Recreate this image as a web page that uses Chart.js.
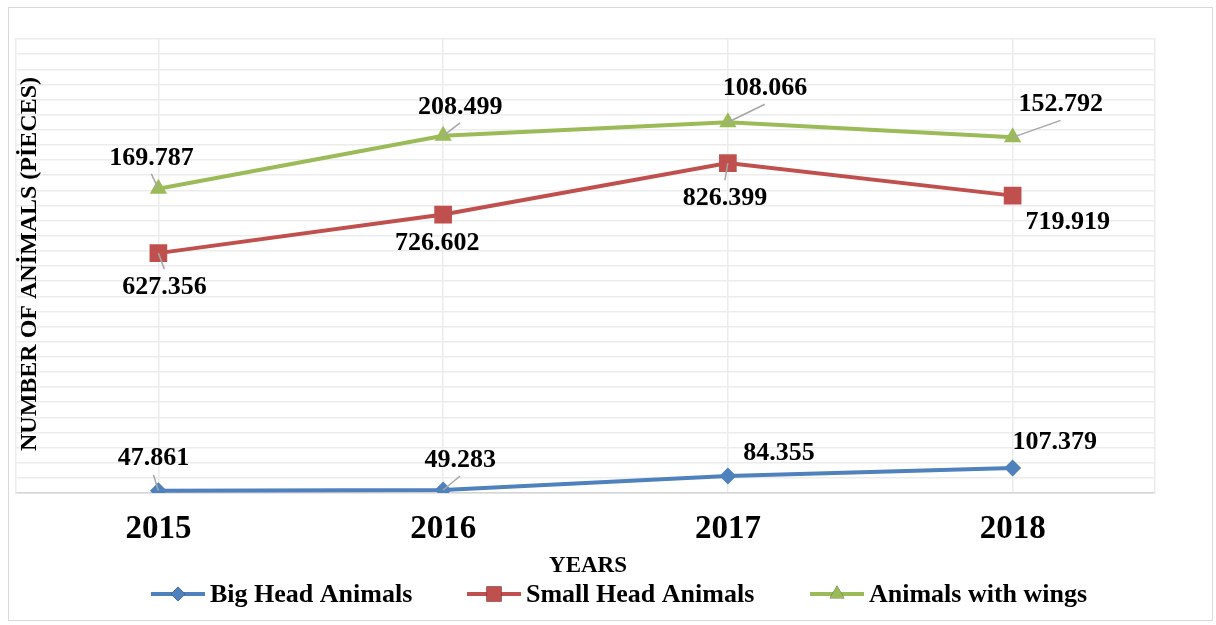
<!DOCTYPE html>
<html>
<head>
<meta charset="utf-8">
<script src="https://cdn.jsdelivr.net/npm/chart.js@4"></script>
<style>
  html, body { margin: 0; padding: 0; background: #fff; }
  #wrap { width: 1216px; height: 625px; position: relative; }
</style>
</head>
<body>
<div id="wrap"><canvas id="chart" width="1216" height="625"></canvas></div>
<script>
// Data (y values in gridline units; the axis has no tick labels)
const years = ['2015', '2016', '2017', '2018'];
const bigHead = [0.15, 0.2, 1.12, 1.65];
const smallHead = [15.85, 18.4, 21.8, 19.65];
const withWings = [20.1, 23.6, 24.5, 23.5];
const bigHeadLabels = ['47.861', '49.283', '84.355', '107.379'];
const smallHeadLabels = ['627.356', '726.602', '826.399', '719.919'];
const withWingsLabels = ['169.787', '208.499', '108.066', '152.792'];

const SERIF = "'Liberation Serif', 'Times New Roman', serif";
const BLUE = '#4f81bd';
const RED = '#c0504d';
const GREEN = '#9bbb59';

// label placement relative to its point: [dx, dy, leader?]
const labelPlacement = [
  [[-5, -33, true], [17, -31, true], [51, -24, false], [42, -27, false]],
  [[6, 33, true], [-6, 28, false], [-3, 34, true], [55, 26, false]],
  [[-7, -32, true], [17, -30, true], [37, -35, true], [48, -34, true]],
];
const seriesLabels = [bigHeadLabels, smallHeadLabels, withWingsLabels];

const dataLabels = {
  id: 'dataLabels',
  afterDatasetsDraw(chart) {
    const ctx = chart.ctx;
    ctx.save();
    ctx.font = `bold 26px ${SERIF}`;
    ctx.textAlign = 'center';
    ctx.textBaseline = 'middle';
    chart.data.datasets.forEach((ds, di) => {
      const meta = chart.getDatasetMeta(di);
      meta.data.forEach((pt, i) => {
        const [dx, dy, leader] = labelPlacement[di][i];
        const lx = pt.x + dx;
        const ly = pt.y + dy;
        if (leader) {
          const sy = ly + (dy < 0 ? 17 : -17);
          ctx.strokeStyle = '#a6a6a6';
          ctx.lineWidth = 1.5;
          ctx.beginPath();
          ctx.moveTo(lx, sy);
          ctx.lineTo(pt.x, pt.y);
          ctx.stroke();
        }
        ctx.fillStyle = '#000';
        ctx.fillText(seriesLabels[di][i], lx, ly + 1);
      });
    });
    ctx.restore();
  },
};

const decorations = {
  id: 'decorations',
  afterDraw(chart) {
    const ctx = chart.ctx;
    ctx.save();
    // outer frame
    ctx.strokeStyle = '#d9d9d9';
    ctx.lineWidth = 1;
    ctx.strokeRect(8.5, 7.5, 1204, 613);

    // y axis title, drawn over the plot area as in the original
    ctx.fillStyle = '#000';
    ctx.font = `bold 24px ${SERIF}`;
    ctx.textAlign = 'center';
    ctx.textBaseline = 'middle';
    ctx.translate(30, 264);
    ctx.rotate(-Math.PI / 2);
    ctx.fillText('NUMBER OF ANİMALS (PİECES)', 0, 0);
    ctx.restore();

    ctx.save();
    ctx.fillStyle = '#000';
    ctx.textAlign = 'center';
    ctx.textBaseline = 'middle';
    ctx.font = `bold 23px ${SERIF}`;
    ctx.fillText('YEARS', 588, 566);

    // legend: line + marker, then name
    const legendX = [151, 467, 810];
    const y = 594;
    chart.data.datasets.forEach((ds, i) => {
      const x0 = legendX[i];
      ctx.strokeStyle = ds.borderColor;
      ctx.lineWidth = 4;
      ctx.beginPath();
      ctx.moveTo(x0, y);
      ctx.lineTo(x0 + 54, y);
      ctx.stroke();
      Chart.helpers.drawPoint(ctx, {
        pointStyle: ds.pointStyle,
        radius: ds.pointRadius * 0.85,
        borderWidth: 0,
        rotation: 0,
      }, x0 + 27, y);
      ctx.fillStyle = ds.backgroundColor;
      ctx.fill();
      ctx.fillStyle = '#000';
      ctx.textAlign = 'left';
      ctx.font = `bold 26px ${SERIF}`;
      ctx.fillText(ds.label, x0 + 59, y + 1);
    });
    ctx.restore();
  },
};

const mkSet = (label, data, color, style, r) => ({
  label,
  data,
  borderColor: color,
  backgroundColor: color,
  borderWidth: 4,
  pointStyle: style,
  pointRadius: r,
  pointHoverRadius: r,
  pointBorderWidth: 0,
  pointBackgroundColor: color,
  tension: 0,
});

new Chart(document.getElementById('chart'), {
  type: 'line',
  data: {
    labels: years,
    datasets: [
      mkSet('Big Head Animals', bigHead, BLUE, 'rectRot', 8.5),
      mkSet('Small Head Animals', smallHead, RED, 'rect', 12.5),
      mkSet('Animals with wings', withWings, GREEN, 'triangle', 10),
    ],
  },
  options: {
    responsive: false,
    animation: false,
    layout: { padding: { left: 16, top: 39, right: 61, bottom: 62 } },
    plugins: { legend: { display: false }, tooltip: { enabled: false } },
    scales: {
      x: {
        offset: true,
        grid: { offset: false, color: '#ececec', lineWidth: 1.5, drawTicks: false },
        border: { color: '#d4d4d4', width: 1.5 },
        ticks: { color: '#000', padding: 17, font: { family: SERIF, size: 33, weight: 'bold' } },
        afterFit(scale) { scale.height = 70; },
      },
      y: {
        min: 0,
        max: 30,
        ticks: { display: false, stepSize: 1 },
        grid: { color: '#ececec', lineWidth: 1.5, drawTicks: false },
        border: { color: '#ececec', width: 1.5 },
        afterFit(scale) { scale.width = 0; },
      },
      y2: {
        position: 'right',
        min: 0,
        max: 30,
        ticks: { display: false },
        grid: { drawOnChartArea: false, drawTicks: false },
        border: { color: '#ececec', width: 1.5 },
        afterFit(scale) { scale.width = 0; },
      },
    },
  },
  plugins: [dataLabels, decorations],
});
</script>
</body>
</html>
